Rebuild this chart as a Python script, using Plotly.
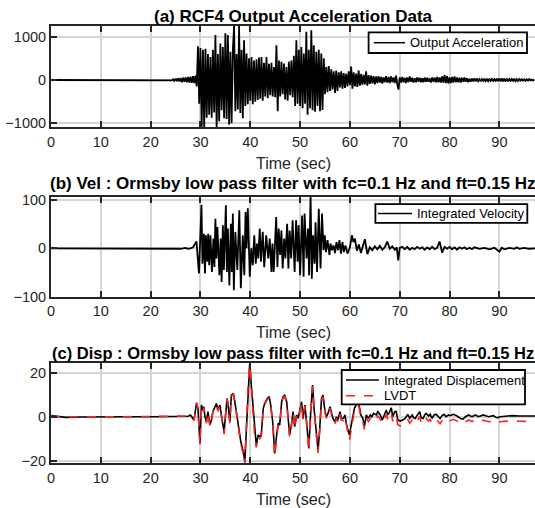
import numpy as np
import plotly.graph_objects as go

# ---------------- data ----------------
# (a) output acceleration: quiet until 24 s, then samples every 0.25 s
acc_quiet_time = [0.0, 23.75]
acc_quiet_vals = [0.0, 0.0]
acc_start = 24.0
acc_step = 0.25
acc_vals = [
    5, -10, 15, -20,
    30, -25, 40, -35,
    45, -50, 55, -40,
    60, -55, 70, -60,
    75, -65, 90, -70,
    100, -150, 780, -550,
    740, -1080, 700, -1100,
    720, -870, 600, -800,
    530, -870, 700, -750,
    1040, -1100, 600, -950,
    840, -700, 760, -880,
    1080, -900, 1040, -1030,
    650, -1000, 700, 1260,
    -720, 600, -680, 1260,
    -760, 700, -880, 920,
    -600, 610, -560, 500,
    -480, 530, -560, 450,
    -500, 480, -460, 520,
    -430, 530, -480, 400,
    -380, 530, -420, 375,
    -350, 400, -380, 300,
    -400, 800, -720, 450,
    -380, 420, -330, 380,
    -450, 300, -480, 420,
    -350, 450, -400, 560,
    -600, 920, -550, 700,
    -600, 760, -650, 610,
    -550, 1115, -800, 700,
    -650, 1150, -700, 800,
    -730, 650, -600, 700,
    -720, 610, -690, 500,
    -330, 300, -280, 320,
    -250, 250, -220, 200,
    -300, 220, -250, 180,
    -170, 200, -200, 160,
    -180, 140, -150, 200,
    -120, 310, -200, 180,
    -150, 150, -160, 220,
    -130, 140, -110, 120,
    -100, 200, -130, 110,
    -90, 100, -80, 90,
    -100, 80, -70, 90,
    -60, 70, -80, 60,
    -50, 90, -60, 70,
    -70, 80, -50, 60,
    -70, 100, -90, -220,
    60, -60, 70, -50,
    50, -70, 60, -50,
    80, -40, 50, -60,
    40, -50, 60, -40,
    50, -50, 40, -50,
    60, -40, 50, -40,
    40, -60, 60, -40,
    50, -50, 70, -50,
    60, -60, 80, -60,
    110, -70, 90, -80,
    60, -70, 70, -60,
    80, -50, 60, -50,
    50, -60, 50, -40,
    60, -40, 40, -50,
    30, -40, 30, -30,
    40, -30, 30, -25,
    20, -30, 25, -20,
    30, -25, 20, -25,
    30, -20, 25, -20,
    20, -30, 30, -25,
    35, -30, 40, -30,
    30, -35, 35, -30,
    25, -20, 25, -20,
    30, -25, 20, -25,
    20, -15, 20, -15,
    15, -20, 15, -15,
    20, -10, 10, -15,
    10,
]

# (b) integrated velocity
vel_time = [0, 25, 26, 27, 27.5, 28, 28.5, 29.2, 29.7, 30.2, 30.4, 30.7, 30.9, 31.1, 31.35,
            31.55, 31.75, 32.0, 32.3, 32.6, 32.8, 33.0, 33.2, 33.4, 33.8, 34.05, 34.25, 34.5,
            34.7, 35.1, 35.3, 35.5, 35.8, 36.1, 36.3, 36.5, 36.7, 37.0, 37.4, 37.8, 38.1, 38.5,
            38.8, 39.05, 39.25, 39.5, 39.9, 40.2, 40.5, 40.8, 41.1, 41.35, 41.6, 41.9, 42.15,
            42.5, 42.8, 43.2, 43.6, 43.9, 44.25, 44.45, 44.7, 45.2, 45.45, 45.7, 46.0, 46.25,
            46.5, 46.8, 47.05, 47.4, 47.65, 47.9, 48.2, 48.5, 48.9, 49.2, 49.5, 49.7, 50.0,
            50.4, 50.7, 50.9, 51.3, 51.6, 51.8, 52.1, 52.35, 52.6, 52.9, 53.1, 53.4, 53.75,
            54.1, 54.4, 54.7, 54.95, 55.2, 55.5, 55.9, 56.1, 56.4, 56.7, 57.0, 57.3, 57.6,
            57.9, 58.2, 58.5, 58.8, 59.1, 59.5, 60.0, 60.4, 60.7, 61.0, 61.4, 61.8, 62.2, 62.6,
            63.0, 63.5, 64.0, 64.5, 65.0, 65.5, 66.0, 66.5, 67.0, 67.5, 68.0, 68.5, 69.0,
            69.4, 69.7, 70.0, 70.5, 71.0, 71.5, 72.0, 72.5, 73.0, 73.5, 74.0, 74.5, 75.0,
            75.5, 76.0, 76.5, 77.0, 77.5, 78.0, 78.5, 79.0, 79.5, 80.0, 80.5, 81.0, 81.5,
            82.0, 82.5, 83.0, 83.5, 84.0, 84.5, 85.0, 86.0, 87.0, 88.0, 89.0, 90.0, 90.5,
            91.0, 92.0, 93.0, 93.5, 94.0, 95.0, 96.0, 97.2]
vel_vals = [0, 0, -1, 1, -1, 0, 2, 14, -52, 90, -32, 30, -52, 27, -28,
            30, -35, 27, -49, 20, -39, 61, -21, 44, -56, 20, -70, 48,
            -45, 89, -49, 41, -77, 51, -49, 72, -87, 34, -45, 79, -83, 27,
            -56, 75, 0, 83, -59, 0, -35, 27, -32, 10, -21, 41, -28,
            34, -39, 27, -21, 20, -49, 10, -49, 65, -39, 41, -14, 37,
            -42, 20, -21, 51, -42, 37, -21, 58, -49, 58, -28, 48, -56,
            68, -59, 72, -21, 41, -56, 112, -63, 27, -32, 54, -49, 82,
            -42, 72, -4, 27, -8, 17, -14, 10, -4, 6, -10, 13, -4,
            17, -11, 13, -8, 6, -11, 2, 27, 13, 20, -5, 8, -10, 5,
            19, -12, 2, -4, 4, -2, 5, -3, 2, 14, -1, 4, -3,
            2, -25, 1, 3, -2, 3, -3, 1, -2, 3, -1, 2, -3,
            2, -2, 3, -2, 1, 14, -9, 3, -1, 3, -2, 2, -3,
            2, -1, 2, -2, 1, -2, 2, -1, 1, -2, 1, -7, 1,
            -2, 1, -1, 2, -1, 1, -1, 0]

# (c) integrated displacement and LVDT
disp_time = [0, 1, 3, 6, 10, 15, 20, 25, 27.5, 28.0, 28.7, 29.2, 29.5, 29.9, 30.2, 30.5, 30.7,
             30.9, 31.2, 31.5, 31.9, 32.2, 32.5, 32.9, 33.2, 33.5, 33.9, 34.4, 34.75, 35.0,
             35.35, 35.6, 35.9, 36.2, 36.6, 36.9, 37.1, 37.6, 38.1, 38.6, 38.9, 39.2, 39.6,
             39.9, 40.2, 40.6, 40.9, 41.2, 41.6, 41.9, 42.2, 42.6, 42.9, 43.4, 43.8, 44.1,
             44.5, 44.9, 45.3, 45.6, 45.9, 46.3, 46.6, 46.9, 47.3, 47.6, 47.9, 48.3, 48.6,
             48.9, 49.3, 49.6, 49.9, 50.3, 50.6, 50.95, 51.3, 51.75, 52.1, 52.5, 52.8, 53.3,
             53.6, 53.9, 54.3, 54.6, 55.0, 55.3, 55.6, 56.0, 56.3, 56.6, 57.0, 57.3, 57.6,
             58.0, 58.3, 58.7, 59.0, 59.4, 59.9, 60.4, 60.9, 61.4, 61.8, 62.2, 62.6, 62.9,
             63.3, 63.7, 64.1, 64.4, 64.75, 65.3, 65.6, 66.1, 66.5, 66.9, 67.3, 67.6, 68.0,
             68.3, 68.6, 69.0, 69.3, 69.6, 70.1, 70.6, 71.1, 71.6, 72.0, 72.5, 72.8, 73.1,
             73.6, 74.0, 74.3, 74.7, 75.0, 75.3, 75.8, 76.1, 76.5, 76.9, 77.3, 77.8, 78.1,
             78.5, 78.9, 79.3, 79.8, 80.1, 80.8, 81.5, 82.2, 82.7, 83.2, 83.8, 84.5, 85.2,
             85.8, 86.8, 87.8, 88.8, 89.5, 90.2, 91.5, 92.5, 94.0, 95.5, 97.2]
disp_vals = [0.5, 0.2, -0.3, -0.1, -0.2, 0, 0, 0, 0.2, 0.8, -1.5, 6, 3.8, -12, 5.3, 3, 4.5,
             0, -2.3, 2.3, -3.8, -1.5, 2.3, 4.5, 6, 3, 5.3, -2.3, -6.8, 0,
             8.3, 4.5, -2.3, 9.8, 10.6, 6.8, 3, -3.8, -11.4, -15.9, -20.5, -6.8, 17.4,
             25, 14.4, 2.3, -8.3, -12.9, -8.3, -9, -8.3, 3.8, 6, 8.3, 9.1, 5.3,
             -2.3, -16.7, -8.3, -3, -3.8, 6.8, 9.1, 9.8, 6.8, -2.3, -8.3, -3, 2.3,
             -4.5, 0.8, -0.8, 2.3, 6.8, -0.8, 5.3, -2.3, -14.4, 0.8, 14.4, 3.8, -6.8,
             -15.2, -6.8, 8.3, 9.8, 2.3, 0, 1.5, 4.5, 2.3, -0.8, -2.3, 0, -1.5,
             2.3, -0.8, -0.8, 0.8, -4.5, -8.3, -3, 3.8, 6, 5.5, 0.8, -0.8, -4.5,
             0.8, -0.8, 0.8, 0, 1.5, 0.8, 2.3, 0.8, -1.5, 0.8, 3, 0.8, 2.3,
             4.1, 0, 2.3, 2.3, -1.5, -2, -1.5, -0.8, 1.1, -0.8, 0.8, -0.5, -0.8,
             0.8, 2.3, -0.5, -0.8, 0.8, 1.5, 0.3, 1.1, -0.8, 0.8, 1.1, 0, -0.8,
             0.5, 1.1, 0, 0.8, 0.5, 1.1, 0.3, -0.8, -1.1, 0, 0.8, 0, 0.8,
             0, 0.8, 0, 0.5, -0.5, 0, 0.3, 0.5, 0.3, 0.3, 0.3]
lvdt_vals = [0.3, 0.0, -0.2, 0, -0.1, 0, 0, 0, 0.3, 0.7, -1.8, 6.5, 3.5, -13, 5, 2.5, 4.2,
             -0.5, -3, 2, -4.5, -2, 2, 4, 5.5, 2.5, 5, -3, -8, -0.5,
             8, 4, -3, 9.5, 10.2, 6.2, 2.5, -4.5, -12.5, -17, -22, -7.5, 17,
             23.5, 13.5, 1.5, -9.5, -14, -9, -10, -9, 3, 5.5, 7.8, 8.6, 4.8,
             -3, -17.8, -9, -3.8, -4.5, 6.2, 8.5, 9.2, 6.2, -3, -9.2, -3.8, 1.8,
             -5.2, 0.2, -1.5, 1.8, 6.2, -1.5, 4.8, -3, -15.5, 0.2, 13.8, 3.2, -7.5,
             -16.5, -7.5, 7.6, 9.2, 1.6, -0.8, 0.8, 3.8, 1.6, -1.6, -3.2, -0.8, -2.3,
             1.5, -1.6, -1.8, -0.2, -5.5, -10.6, -4.2, 2.8, 5, 4.6, -0.4, -2, -5.8,
             -0.6, -2.2, -0.8, -1.5, -0.2, -1, 0.5, -1.2, -3.2, -1.2, 1, -1.2, 0.2,
             2, -2, 0.3, 0.2, -3.6, -4.2, -3.8, -3, -1.2, -3, -1.5, -2.8, -3,
             -1.5, 0, -2.8, -3.2, -1.5, -0.8, -2, -1.2, -3, -1.5, -1.2, -2.5, -3.2,
             -1.8, -1.2, -2.2, -1.5, -1.8, -1.2, -2, -3, -3.3, -2.3, -1.5, -2.2, -1.5,
             -2.2, -1.6, -2.3, -1.9, -2.8, -2.3, -2, -1.9, -2.1, -2.1, -2.2]

x_ticks = [0, 10, 20, 30, 40, 50, 60, 70, 80, 90]
y_ticks_a = [-1000, 0, 1000]
y_ticks_b = [-100, 0, 100]
y_ticks_c = [-20, 0, 20]

titles = ["(a) RCF4 Output Acceleration Data",
          "(b) Vel : Ormsby low pass filter with fc=0.1 Hz and ft=0.15 Hz",
          "(c) Disp : Ormsby low pass filter with fc=0.1 Hz and ft=0.15 Hz"]
xlabel = "Time (sec)"
legend_names = ["Output Acceleration", "Integrated Velocity",
                "Integrated Displacement", "LVDT"]

# ---------------- figure ----------------
acc_time = acc_quiet_time + list(acc_start + acc_step * np.arange(len(acc_vals)))
acc_all = acc_quiet_vals + acc_vals

W, H = 535, 508
L = 51
FONT = "Liberation Sans, Arial, sans-serif"
AX = "#262626"
RED = "#ff2020"

styles = [dict(color="black", width=1.8), dict(color="black", width=1.8),
          dict(color="black", width=1.6), dict(color=RED, width=1.6, dash="dash")]

fig = go.Figure()
fig.add_trace(go.Scatter(x=acc_time, y=acc_all, mode="lines", name=legend_names[0],
                         line=styles[0], xaxis="x", yaxis="y"))
fig.add_trace(go.Scatter(x=vel_time, y=vel_vals, mode="lines", name=legend_names[1],
                         line=styles[1], xaxis="x2", yaxis="y2"))
fig.add_trace(go.Scatter(x=disp_time, y=disp_vals, mode="lines", name=legend_names[2],
                         line=styles[2], xaxis="x3", yaxis="y3"))
fig.add_trace(go.Scatter(x=disp_time, y=lvdt_vals, mode="lines", name=legend_names[3],
                         line=styles[3], xaxis="x3", yaxis="y3"))


def py(px):
    return (H - px) / H


def px_x(px):
    return (px - L) / (W - L)


xcommon = dict(range=[0, 97.15], tickvals=x_ticks, ticks="inside", ticklen=6, tickwidth=1.5,
               tickcolor=AX, showline=True, linecolor=AX, linewidth=2, mirror="ticks",
               showgrid=True, gridcolor="#d6d6d6", gridwidth=1.5, zeroline=False,
               tickfont=dict(family=FONT, size=14.5, color=AX), automargin=False,
               layer="above traces")
ycommon = dict(ticks="inside", ticklen=6, tickwidth=1.5, tickcolor=AX, showline=True,
               linecolor=AX, linewidth=2, mirror=False, showgrid=True, gridcolor="#d6d6d6",
               gridwidth=1.5, zeroline=False, tickfont=dict(family=FONT, size=14.5, color=AX),
               automargin=False, layer="above traces")

dom_a = [py(127.3), py(25.7)]
dom_b = [py(296.5), py(196.7)]
dom_c = [py(463.3), py(363.3)]

fig.update_layout(
    width=W, height=H, margin=dict(l=L, r=0, t=0, b=0, autoexpand=False),
    paper_bgcolor="white", plot_bgcolor="white", showlegend=False,
    xaxis=dict(domain=[0, 1], anchor="y", **xcommon),
    yaxis=dict(domain=dom_a, anchor="x", range=[-1092, 1254], tickvals=y_ticks_a, **ycommon),
    xaxis2=dict(domain=[0, 1], anchor="y2", **xcommon),
    yaxis2=dict(domain=dom_b, anchor="x2", range=[-100, 107], tickvals=y_ticks_b, **ycommon),
    xaxis3=dict(domain=[0, 1], anchor="y3", **xcommon),
    yaxis3=dict(domain=dom_c, anchor="x3", range=[-21.2, 24.3], tickvals=y_ticks_c, **ycommon),
)

title_y = [16.7, 183.3, 352.7]
title_size = [17, 17, 16.5]
label_y = [163, 332.7, 499.7]
for t, ty, ts in zip(titles, title_y, title_size):
    fig.add_annotation(text=t, x=0.5, y=py(ty), xref="paper", yref="paper", showarrow=False,
                       xanchor="center", yanchor="middle",
                       font=dict(family=FONT, size=ts, color="black", weight="bold"))
for ly in label_y:
    fig.add_annotation(text=xlabel, x=0.5, y=py(ly), xref="paper", yref="paper",
                       showarrow=False, xanchor="center", yanchor="middle",
                       font=dict(family=FONT, size=16, color=AX))

# MATLAB-style legend boxes (box, sample line, label)
legend_boxes = [
    dict(box=(368.6, 32.4, 527, 53.0), rows=[(42.7, 373.7, 405.0, 0)]),
    dict(box=(375.4, 204.1, 527.3, 222.9), rows=[(213.5, 378.0, 412.0, 1)]),
    dict(box=(341.7, 370.0, 525.0, 404.3), rows=[(380.0, 346.0, 379.0, 2),
                                                  (395.7, 346.0, 379.0, 3)]),
]
for lb in legend_boxes:
    x0, y0, x1, y1 = lb["box"]
    fig.add_shape(type="rect", xref="paper", yref="paper", x0=px_x(x0), x1=px_x(x1),
                  y0=py(y1), y1=py(y0), fillcolor="white",
                  line=dict(color="black", width=1.8), layer="above")
    for ry, lx0, lx1, idx in lb["rows"]:
        st = styles[idx]
        fig.add_shape(type="line", xref="paper", yref="paper", x0=px_x(lx0), x1=px_x(lx1),
                      y0=py(ry), y1=py(ry), layer="above",
                      line=dict(color=st["color"], width=1.5, dash=st.get("dash", "solid")))
        fig.add_annotation(text=legend_names[idx], x=px_x(lx1 + 2.5), y=py(ry), xref="paper",
                           yref="paper", showarrow=False, xanchor="left", yanchor="middle",
                           font=dict(family=FONT, size=13, color="black"))

fig.write_html("out.html", config={"displayModeBar": False},
               post_script="document.body.style.margin='0px';"
                           "document.body.style.overflow='hidden';")
